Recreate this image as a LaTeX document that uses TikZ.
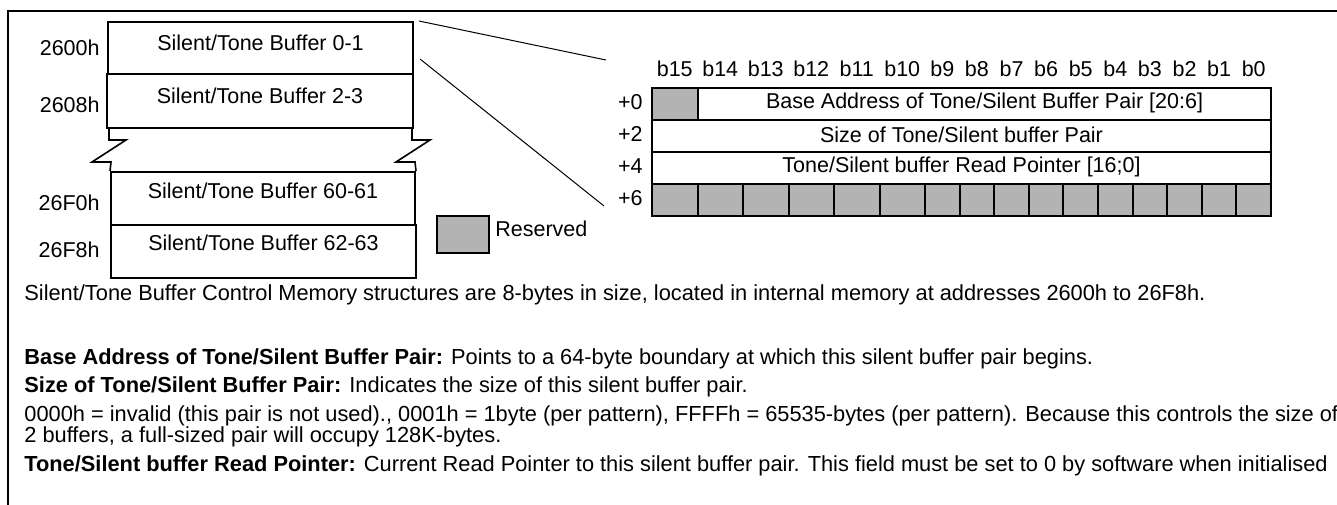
\documentclass[tikz,border=0pt]{standalone}
\usepackage{fontspec}
\setmainfont{Liberation Sans}
\usetikzlibrary{fit}
\definecolor{resgray}{RGB}{179,179,179}
\begin{document}
\begin{tikzpicture}[x=0.5pt,y=-0.5pt,
  font=\fontsize{10.75}{13}\selectfont,
  box/.style={draw, line width=1pt, inner sep=0pt},
  gcell/.style={draw, line width=1pt, fill=resgray, inner sep=0pt},
  lbl/.style={inner sep=0pt},
  para/.style={inner sep=0pt, anchor=base west, font=\fontsize{10.9}{13}\selectfont},
  thinline/.style={line width=0.5pt},
  breakline/.style={line width=0.8pt}]
\useasboundingbox (0,0) rectangle (1337,504);
\clip (0,0) rectangle (1337,504);
% outer frame
\draw[line width=1pt] (8,520) -- (8,11) -- (1350,11);
% memory stack
\node[box, fit={(108,22) (413,74)}] (b1) {};
\node[box, fit={(107,74) (413,128)}] (b2) {};
\node[box, fit={(111,172) (415,225)}] (b3) {};
\node[box, fit={(111,225) (416,278)}] (b4) {};
\node[lbl] (t1) at (260.5,43) {Silent/Tone Buffer 0-1};
\node[lbl] (t2) at (260,96) {Silent/Tone Buffer 2-3};
\node[lbl] (t3) at (263,191) {Silent/Tone Buffer 60-61};
\node[lbl] (t4) at (263.5,243) {Silent/Tone Buffer 62-63};
\node[lbl, anchor=east] (a1) at (100,48) {2600h};
\node[lbl, anchor=east] (a2) at (100,105) {2608h};
\node[lbl, anchor=east] (a3) at (100,203) {26F0h};
\node[lbl, anchor=east] (a4) at (100,250) {26F8h};
% break marks
\draw[breakline] (109,128) -- (109,140) -- (126,140) -- (92,162) -- (111,162) -- (b3.north west);
\draw[breakline] (412,128) -- (412,140) -- (430,140) -- (396,162) -- (415,162) -- (b3.north east);
% zoom lines
\coordinate (z1) at (606,60);
\coordinate (z2) at (604,206);
\draw[thinline] ([xshift=2.5pt]b1.north east) -- (z1);
\draw[thinline] ([xshift=3pt,yshift=-19pt]b1.north east) -- (z2);
% bit labels
\foreach \c/\t [count=\i] in {674.75/b15,720.25/b14,765.75/b13,811.25/b12,856.75/b11,902.25/b10,
  942.3/b9,976.9/b8,1011.5/b7,1046.1/b6,1080.7/b5,1115.3/b4,1149.9/b3,1184.5/b2,1219.1/b1,1253.7/b0}
  \node[lbl] (bit\i) at (\c,69) {\t};
% rows
\node[box, fit={(652,88) (1271,120)}] (r0) {};
\node[box, fit={(652,120) (1271,152)}] (r2) {};
\node[box, fit={(652,152) (1271,184)}] (r4) {};
\node[gcell, fit={(652,88) (697.5,120)}] (g0) {};
\node[lbl] (f0) at (984.5,103) {Base Address of Tone/Silent Buffer Pair [20:6]};
\node[lbl] (f2) at (961.5,135) {Size of Tone/Silent buffer Pair};
\node[lbl] (f4) at (961.5,167) {Tone/Silent buffer Read Pointer [16;0]};
\foreach \a/\b [count=\i] in {652/697.5,697.5/743,743/788.5,788.5/834,834/879.5,879.5/925,
  925/959.6,959.6/994.2,994.2/1028.8,1028.8/1063.4,1063.4/1098,1098/1132.6,1132.6/1167.2,
  1167.2/1201.8,1201.8/1236.4,1236.4/1271}
  \node[gcell, fit={(\a,184) (\b,216)}] (c\i) {};
\node[lbl, anchor=east] (o0) at (643,102) {+0};
\node[lbl, anchor=east] (o2) at (643,134) {+2};
\node[lbl, anchor=east] (o4) at (643,166) {+4};
\node[lbl, anchor=east] (o6) at (643,198) {+6};
% legend
\node[gcell, fit={(437,216) (489,253)}] (leg) {};
\node[lbl, anchor=west] (legt) at (495,229) {Reserved};
% description text
\node[para] (p1) at (24,300.5) {Silent/Tone Buffer Control Memory structures are 8-bytes in size, located in internal memory at addresses 2600h to 26F8h.};
\node[para] (p2) at (24,364.5) {\textbf{Base Address of Tone/Silent Buffer Pair:} Points to a 64-byte boundary at which this silent buffer pair begins.};
\node[para] (p3) at (24,392.5) {\textbf{Size of Tone/Silent Buffer Pair:} Indicates the size of this silent buffer pair.};
\node[para] (p4) at (24,421.5) {0000h = invalid (this pair is not used)., 0001h = 1byte (per pattern), FFFFh = 65535-bytes (per pattern). Because this controls the size of};
\node[para] (p5) at (24,442.5) {2 buffers, a full-sized pair will occupy 128K-bytes.};
\node[para] (p6) at (24,471.5) {\textbf{Tone/Silent buffer Read Pointer:} Current Read Pointer to this silent buffer pair. This field must be set to 0 by software when initialised};
\end{tikzpicture}
\end{document}
